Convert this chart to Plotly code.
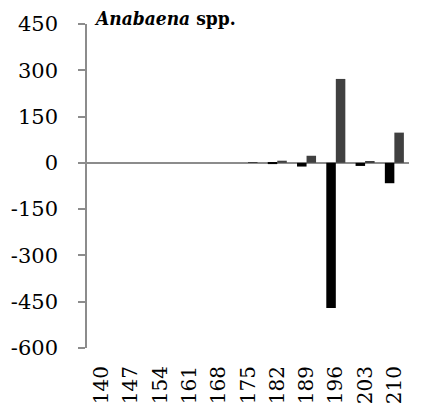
import plotly.graph_objects as go

# Sampling days and the two measured series
days = ["140", "147", "154", "161", "168", "175", "182", "189", "196", "203", "210"]
series_a = [0, 0, 0, 0, 0, 0, -4, -12, -470, -10, -66]
series_b = [0, 0, 0, 0, 0, 2, 7, 23, 272, 6, 98]

y_ticks = [-600, -450, -300, -150, 0, 150, 300, 450]

font_family = "DejaVu Serif"
title_family = "DejaVu Serif Condensed, Liberation Serif, serif"
axis_grey = "#8c8c8c"

fig = go.Figure()
fig.add_trace(go.Bar(x=days, y=series_a, marker=dict(color="#000000", line=dict(width=0)), name="A"))
fig.add_trace(go.Bar(x=days, y=series_b, marker=dict(color="#404040", line=dict(width=0)), name="B"))

fig.update_layout(
    width=427,
    height=408,
    margin=dict(l=87, r=18, t=24, b=60),
    paper_bgcolor="white",
    plot_bgcolor="white",
    barmode="group",
    bargap=0.35,
    bargroupgap=0,
    showlegend=False,
    font=dict(family=font_family, size=21, color="black"),
    xaxis=dict(
        type="category",
        automargin=False,
        showline=False,
        showgrid=False,
        zeroline=False,
        tickangle=-90,
        ticks="",
        ticklabelstandoff=13,
        tickfont=dict(family=font_family, size=20, color="black"),
    ),
    yaxis=dict(
        range=[-600, 450],
        automargin=False,
        tickvals=y_ticks,
        ticktext=[str(v) for v in y_ticks],
        showgrid=False,
        showline=True,
        linecolor=axis_grey,
        linewidth=1.5,
        ticks="outside",
        ticklen=7,
        tickwidth=1.5,
        tickcolor=axis_grey,
        ticklabelstandoff=16,
        zeroline=True,
        zerolinecolor=axis_grey,
        zerolinewidth=1.5,
        tickfont=dict(family=font_family, size=21, color="black"),
    ),
    annotations=[
        dict(
            text="<b><i>Anabaena</i> spp.</b>",
            xref="paper", yref="paper",
            x=0.016, y=1.0185,
            xanchor="left", yanchor="middle",
            showarrow=False,
            font=dict(family=title_family, size=19, color="black"),
        )
    ],
)

fig.write_html("out.html")
